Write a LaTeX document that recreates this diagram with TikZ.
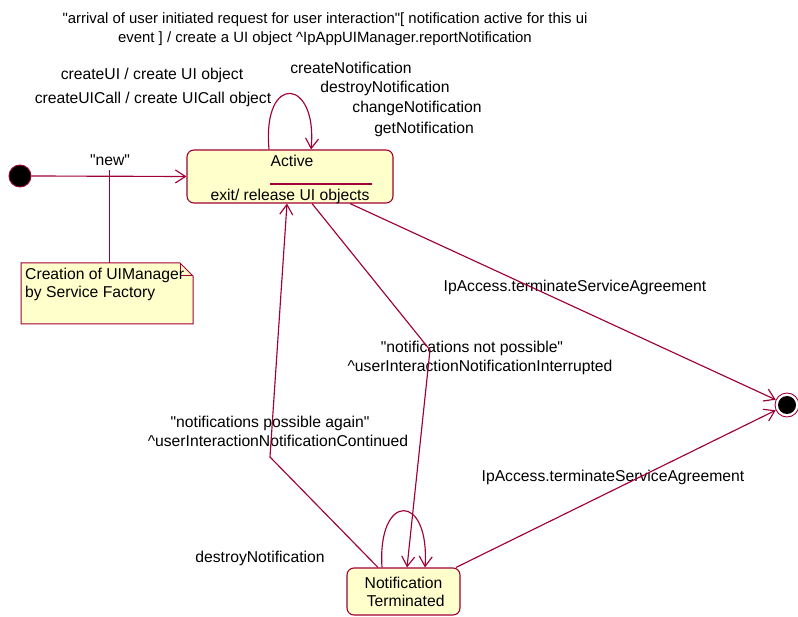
\documentclass[tikz,border=0pt]{standalone}
\usepackage{fontspec}
\setmainfont{Liberation Sans}[Ligatures=TeXOff]
\usetikzlibrary{arrows.meta}
\definecolor{umlred}{RGB}{160,0,55}
\definecolor{umlfill}{RGB}{255,255,204}
\tikzset{
  every node/.style={font=\fontsize{15.7}{18}\selectfont, inner sep=0pt},
  lbl/.style={align=center},
  statebox/.style={draw=umlred, fill=umlfill, rounded corners=7pt, line width=1.1pt},
  conn/.style={draw=umlred, line width=1.15pt},
  arr/.style={conn, -{Straight Barb[length=10pt,width=13pt,line width=1.15pt]}},
}
\begin{document}
\begin{tikzpicture}[x=1pt,y=-1pt]
\useasboundingbox (0,0) rectangle (798,617);

% states
\node[statebox, minimum width=206pt, minimum height=53pt] (active) at (290,176.5) {};
\node (activeT) at (292,161) {Active};
\node (activeX) at (290,196) {exit/ release UI objects};
\draw[conn] ([xshift=-20pt,yshift=-7.5pt]active.center) -- ([xshift=82pt,yshift=-7.5pt]active.center);

\node[statebox, minimum width=113pt, minimum height=47pt, align=center] (nt) at (403.5,591.5) {Notification\\\ Terminated};

\node[circle, fill=black, draw=umlred, line width=0.9pt, minimum size=22pt] (init) at (20,176) {};
\node[circle, draw=umlred, line width=0.9pt, fill=white, minimum size=24pt] (final) at (787,405) {};
\node[circle, fill=black, minimum size=18pt] (finalin) at (787,405) {};

% note
\draw[conn, fill=umlfill, line width=1pt] (21,263) -- (180,263) -- (193,276) -- (193,324) -- (21,324) -- cycle;
\draw[conn, line width=1pt] (180,263) -- (180,276) -- (193,276);
\node[align=left, anchor=north west] (note) at (25,268) {Creation of UIManager\\by Service Factory};

% labels
\node[lbl, font=\fontsize{14.9}{19}\selectfont] (top) at (325,29.5) {"arrival of user initiated request for user interaction"[ notification active for this ui\\event ] / create a UI object \textasciicircum IpAppUIManager.reportNotification};
\node (cui) at (152,75) {createUI / create UI object};
\node (cuicall) at (153,99) {createUICall / create UICall object};
\node (cn) at (351,68) {createNotification};
\node (dn) at (385,88) {destroyNotification};
\node (chn) at (417,108) {changeNotification};
\node (gn) at (424,129) {getNotification};
\node (new) at (110,160) {"new"};
\node (ipa1) at (575,287) {IpAccess.terminateServiceAgreement};
\node (ipa2) at (613,477) {IpAccess.terminateServiceAgreement};
\node (nnp) at (472,348) {"notifications not possible"};
\node (uini) at (480,367) {\textasciicircum userInteractionNotificationInterrupted};
\node (npa) at (270,423) {"notifications possible again"};
\node (uinc) at (278,441) {\textasciicircum userInteractionNotificationContinued};
\node (dn2) at (260,558) {destroyNotification};

% note anchor line
\draw[conn, line width=1pt] (109,263) -- ([yshift=-4pt]new.south -| 109,0);

% connectors
\draw[arr] (init.east) -- (active.west);
\draw[arr] ([xshift=-21pt]active.north) .. controls (262,72) and (318,78) .. ([xshift=21pt]active.north);
\coordinate (b1) at (430,350);
\coordinate (b2) at (270,457);
\draw[arr] ([xshift=22pt]active.south) -- (b1) -- ([xshift=3.5pt]nt.north);
\draw[arr] ([xshift=-25.5pt]nt.north) -- (b2) -- ([xshift=-3pt]active.south);
\draw[arr] ([xshift=60pt]active.south) -- (final.155);
\draw[arr] ([xshift=52.5pt]nt.north) -- (final.205);
\draw[arr] ([xshift=-21.5pt]nt.north) .. controls (377,492) and (430,492) .. ([xshift=21.5pt]nt.north);
\end{tikzpicture}
\end{document}
